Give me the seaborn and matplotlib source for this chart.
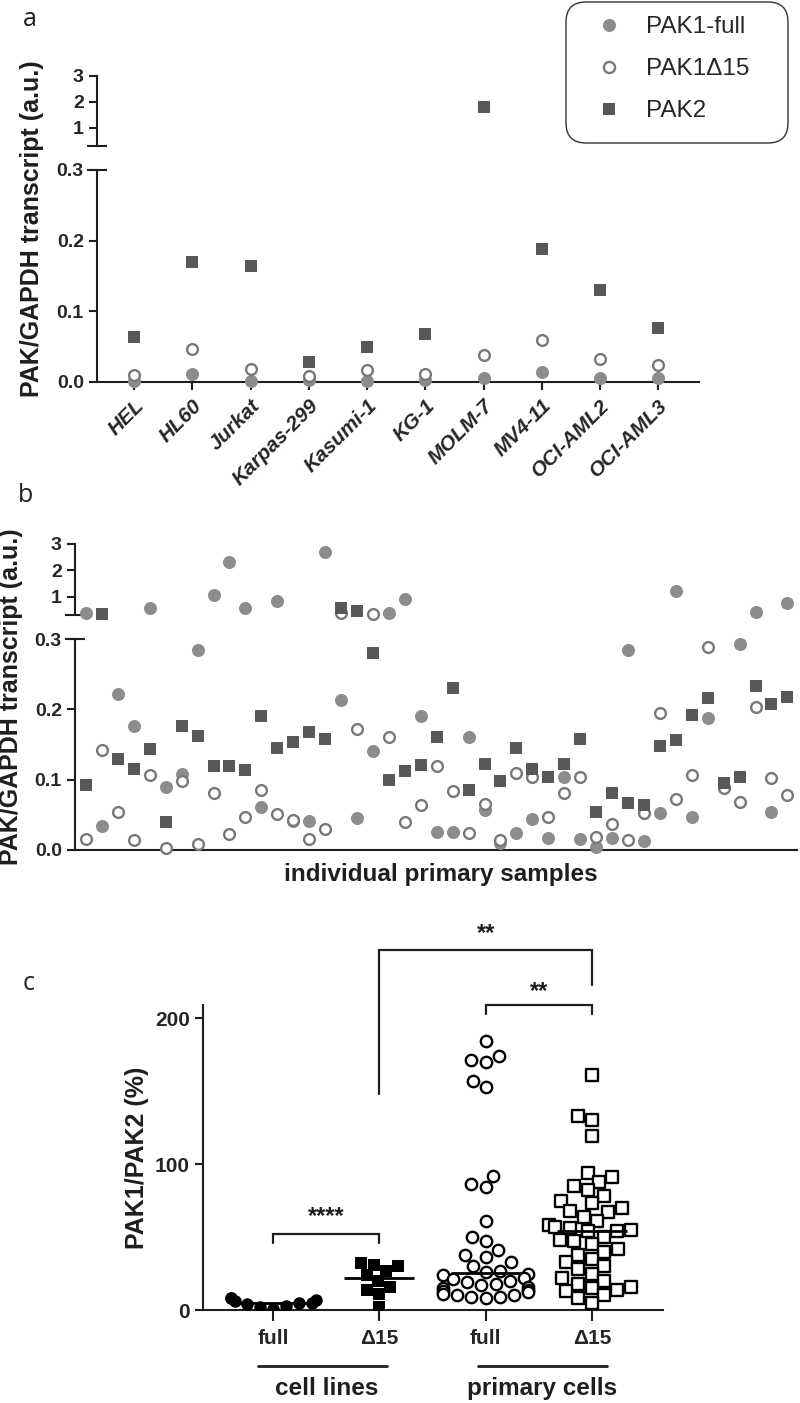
import matplotlib
matplotlib.use('Agg')
import matplotlib.pyplot as plt
import seaborn as sns
import pandas as pd
import numpy as np
from matplotlib.lines import Line2D
from matplotlib.patches import FancyBboxPatch
from matplotlib.ticker import FormatStrFormatter

# panel a: cell lines (PAK/GAPDH, a.u.)
cell_lines = ['HEL', 'HL60', 'Jurkat', 'Karpas-299', 'Kasumi-1', 'KG-1',
              'MOLM-7', 'MV4-11', 'OCI-AML2', 'OCI-AML3']
a_full = [0.001, 0.012, 0.002, 0.003, 0.002, 0.003, 0.006, 0.014, 0.005, 0.006]
a_d15 = [0.010, 0.046, 0.019, 0.008, 0.017, 0.011, 0.038, 0.060, 0.032, 0.024]
a_pak2 = [0.063, 0.170, 0.164, 0.029, 0.050, 0.068, 1.8, 0.188, 0.130, 0.076]

# panel b: individual primary samples
b_full = [0.36, 0.034, 0.222, 0.177, 0.55, 0.090, 0.108, 0.284, 1.07, 2.3,
          0.58, 0.061, 0.85, 0.041, 0.041, 2.7, 0.213, 0.045, 0.141, 0.36,
          0.92, 0.191, 0.026, 0.026, 0.161, 0.057, 0.010, 0.024, 0.044, 0.017,
          0.104, 0.016, 0.004, 0.017, 0.284, 0.013, 0.053, 1.23, 0.047, 0.188,
          0.090, 0.293, 0.40, 0.054, 0.74]
b_d15 = [0.016, 0.142, 0.054, 0.014, 0.107, 0.003, 0.098, 0.009, 0.081, 0.023,
         0.047, 0.085, 0.051, 0.043, 0.016, 0.030, 0.36, 0.172, 0.33, 0.161,
         0.040, 0.064, 0.119, 0.084, 0.024, 0.065, 0.014, 0.110, 0.104, 0.047,
         0.081, 0.104, 0.018, 0.037, 0.014, 0.053, 0.195, 0.072, 0.107, 0.289,
         0.088, 0.068, 0.203, 0.102, 0.078]
b_pak2 = [0.093, 0.33, 0.129, 0.115, 0.143, 0.040, 0.176, 0.162, 0.119, 0.119,
          0.114, 0.191, 0.145, 0.154, 0.168, 0.158, 0.55, 0.45, 0.28, 0.100,
          0.112, 0.121, 0.161, 0.230, 0.085, 0.122, 0.098, 0.145, 0.115, 0.104,
          0.122, 0.158, 0.054, 0.081, 0.067, 0.064, 0.148, 0.156, 0.192, 0.216,
          0.095, 0.104, 0.233, 0.208, 0.218]

# panel c: PAK1/PAK2 (%)
c_groups = ['full', '\u039415', 'full ', '\u039415 ']
c_cl_full = [1, 2, 3, 4, 4.5, 5, 6, 7, 8, 8.5]
c_cl_d15 = [2, 11, 14, 16, 20, 24, 27, 30, 31, 32]
c_pc_full = [184, 174, 171, 170, 157, 153, 92, 86, 84, 61, 50, 47, 41, 38, 36,
             33, 30, 27, 26, 25, 24, 22, 21, 20, 19, 18, 17, 16, 15, 14, 13,
             12, 11, 10, 10, 9, 9, 8]
c_pc_d15 = [161, 133, 130, 119, 94, 91, 88, 85, 82, 78, 75, 73, 70, 68, 67,
            64, 61, 58, 57, 56, 55, 54, 54, 50, 48, 47, 45, 42, 40, 38, 35,
            33, 30, 28, 25, 22, 20, 18, 16, 15, 14, 13, 10, 8, 5]

GREY_FULL = '#8c8c8c'
GREY_OPEN = '#787878'
GREY_SQ = '#585858'
INK = '#1e1e1e'

sns.set_theme(style='ticks')
plt.rcParams['font.family'] = ['Liberation Sans', 'DejaVu Sans']
plt.rcParams['axes.linewidth'] = 1.5

W, H = 800, 1403
fig = plt.figure(figsize=(W / 100, H / 100), dpi=100)


def add_ax(left, top, right, bottom):
    return fig.add_axes([left / W, 1 - bottom / H, (right - left) / W, (bottom - top) / H])


def style(ax, size=14):
    for s in ax.spines.values():
        s.set_color(INK)
        s.set_linewidth(1.5)
    ax.tick_params(direction='out', length=6, width=1.5, color=INK, labelsize=size)
    for t in ax.get_yticklabels():
        t.set_fontweight('bold')


series_kw = [
    dict(marker='o', s=88, color=GREY_FULL, linewidth=0, zorder=3),
    dict(marker='o', s=60, color='white', edgecolor=GREY_OPEN, linewidth=1.7, zorder=4),
    dict(marker='s', s=80, color=GREY_SQ, linewidth=0, zorder=5),
]


def broken_panel(up_box, low_box, values, xlim):
    up = add_ax(*up_box)
    low = add_ax(*low_box)
    x = np.arange(len(values[0]))
    for vals, kw in zip(values, series_kw):
        df = pd.DataFrame({'x': x, 'y': vals})
        sns.scatterplot(data=df[df.y >= 0.3], x='x', y='y', ax=up, clip_on=False, legend=False, **kw)
        sns.scatterplot(data=df[df.y < 0.3], x='x', y='y', ax=low, clip_on=False, legend=False, **kw)
    up.set_ylim(0.3, 3)
    up.set_yticks([1, 2, 3])
    low.set_ylim(0, 0.3)
    low.set_yticks([0, 0.1, 0.2, 0.3])
    low.yaxis.set_major_formatter(FormatStrFormatter('%.1f'))
    for ax in (up, low):
        ax.set_xlim(*xlim)
        ax.set_xlabel('')
        ax.set_ylabel('')
        ax.spines['top'].set_visible(False)
        ax.spines['right'].set_visible(False)
        style(ax)
    up.spines['bottom'].set_visible(False)
    up.set_xticks([])
    # break caps
    up.plot(0, 0.3, marker='_', ms=14, mew=1.5, color=INK, clip_on=False,
            transform=up.get_yaxis_transform())
    low.plot(0, 0.3, marker='_', ms=14, mew=1.5, color=INK, clip_on=False,
             transform=low.get_yaxis_transform())
    return up, low


# ---------- panel a ----------
up_a, low_a = broken_panel((97, 76, 699, 146), (97, 170, 699, 382),
                           [a_full, a_d15, a_pak2], (-0.64, 9.7))
low_a.set_xticks(range(len(cell_lines)))
low_a.set_xticklabels(cell_lines, rotation=45, ha='right', va='top',
                      rotation_mode='anchor', fontsize=15, fontweight='bold', style='italic')
low_a.tick_params(axis='x', length=6, pad=4)
fig.text(32 / W, 1 - 229 / H, 'PAK/GAPDH transcript (a.u.)', rotation=90, ha='center',
         va='center', fontsize=18, fontweight='bold', color=INK)
fig.text(30 / W, 1 - 20 / H, 'a', fontsize=18, family='Open Sans', ha='center', va='center', color=INK)

handles = [
    Line2D([], [], ls='', marker='o', ms=9.4, color=GREY_FULL, mew=0),
    Line2D([], [], ls='', marker='o', ms=8, mfc='white', mec=GREY_OPEN, mew=1.7),
    Line2D([], [], ls='', marker='s', ms=9, color=GREY_SQ, mew=0),
]
fig.patches.append(FancyBboxPatch((566 / W, 1 - 143 / H), 222 / W, 141 / H,
                                  boxstyle='round,pad=0,rounding_size=0.025',
                                  mutation_aspect=W / H, transform=fig.transFigure,
                                  facecolor='white', edgecolor='#333333', lw=1.0, zorder=1))
leg = fig.legend(handles, ['PAK1-full', 'PAK1\u039415', 'PAK2'], loc='upper left',
                 bbox_to_anchor=(597 / W, 1 - 16 / H), fontsize=17.5, frameon=False,
                 borderpad=0, labelspacing=0.83, handletextpad=1.0, handlelength=1.0,
                 borderaxespad=0)
leg.set_zorder(2)

# ---------- panel b ----------
up_b, low_b = broken_panel((75, 544, 797, 615), (75, 639, 797, 850),
                           [b_full, b_d15, b_pak2], (-0.69, 44.6))
low_b.set_xticks([])
fig.text(441 / W, 1 - 875 / H, 'individual primary samples', ha='center', va='center',
         fontsize=17.5, fontweight='bold', color=INK)
fig.text(11 / W, 1 - 697 / H, 'PAK/GAPDH transcript (a.u.)', rotation=90, ha='center',
         va='center', fontsize=18, fontweight='bold', color=INK)
fig.text(26 / W, 1 - 495 / H, 'b', fontsize=18, family='Open Sans', ha='center', va='center', color=INK)

# ---------- panel c ----------
ax = add_ax(203, 1005, 663, 1310)
common = dict(order=c_groups, ax=ax, warn_thresh=1)
sns.swarmplot(x=['full'] * len(c_cl_full), y=c_cl_full, marker='o', size=9,
              color='black', linewidth=0, **common)
sns.swarmplot(x=['\u039415'] * len(c_cl_d15), y=c_cl_d15, marker='s', size=9,
              color='black', linewidth=0, **common)
sns.swarmplot(x=['full '] * len(c_pc_full), y=c_pc_full, marker='o', size=8.2,
              facecolor='white', edgecolor='black', linewidth=1.7, **common)
sns.swarmplot(x=['\u039415 '] * len(c_pc_d15), y=c_pc_d15, marker='s', size=8.2,
              facecolor='white', edgecolor='black', linewidth=1.7, **common)
for i, vals in enumerate([c_cl_full, c_cl_d15, c_pc_full, c_pc_d15]):
    ax.hlines(np.median(vals), i - 0.33, i + 0.33, color='black', lw=2, zorder=6)

ax.set_xlim(-0.66, 3.67)
ax.set_ylim(0, 209)
ax.set_yticks([0, 100, 200])
ax.set_xticks(range(4))
ax.set_xticklabels(['full', '\u039415', 'full', '\u039415'], fontsize=16, fontweight='bold')
ax.spines['top'].set_visible(False)
ax.spines['right'].set_visible(False)
style(ax, size=15)
ax.tick_params(axis='x', length=8, pad=6)
ax.set_ylabel('PAK1/PAK2 (%)', fontsize=18, fontweight='bold', labelpad=4, color=INK)


def bracket(x0, x1, y_left, y_right, y_top, label, ty):
    ax.plot([x0, x0, x1, x1], [y_left, y_top, y_top, y_right], color=INK, lw=1.6,
            clip_on=False, solid_joinstyle='miter')
    ax.text((x0 + x1) / 2, ty, label, ha='center', va='center', fontsize=17,
            fontweight='bold', color=INK, clip_on=False)


bracket(0, 1, 46, 46, 52, '****', 64)
bracket(2, 3, 203, 203, 209, '**', 218)
bracket(1, 3, 148, 223, 247, '**', 258)

tr = ax.get_xaxis_transform()
ax.plot([-0.14, 1.07], [-0.184, -0.184], transform=tr, color=INK, lw=2, clip_on=False)
ax.plot([1.93, 3.14], [-0.184, -0.184], transform=tr, color=INK, lw=2, clip_on=False)
ax.text(0.5, -0.259, 'cell lines', transform=tr, ha='center', va='center', fontsize=17.5,
        fontweight='bold', color=INK)
ax.text(2.53, -0.259, 'primary cells', transform=tr, ha='center', va='center', fontsize=17.5,
        fontweight='bold', color=INK)
fig.text(29 / W, 1 - 984 / H, 'c', fontsize=18, family='Open Sans', ha='center', va='center', color=INK)

fig.savefig('out.png', dpi=100)
